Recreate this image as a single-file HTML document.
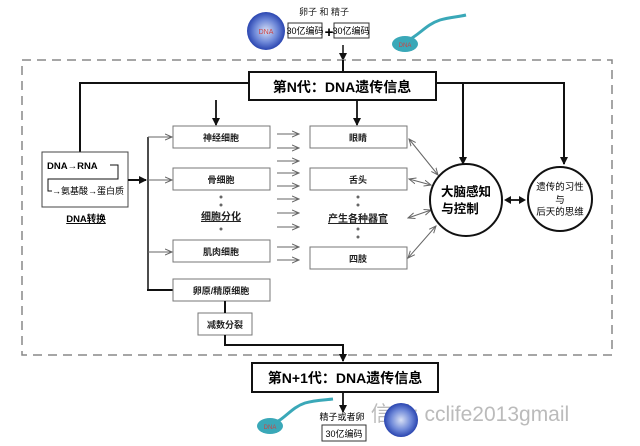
<!DOCTYPE html>
<html><head><meta charset="utf-8"><style>
html,body{margin:0;padding:0;background:#fff;}
svg{display:block;font-family:"Liberation Sans","Noto Sans CJK SC",sans-serif;}
</style></head><body>
<svg width="640" height="446" viewBox="0 0 640 446" xmlns="http://www.w3.org/2000/svg">
<defs>
<marker id="a" markerWidth="8" markerHeight="8" refX="7" refY="4" orient="auto" markerUnits="userSpaceOnUse"><path d="M0,0 L8,4 L0,8 Z" fill="#111"/></marker>
<marker id="t" markerWidth="8" markerHeight="8" refX="7" refY="4" orient="auto" markerUnits="userSpaceOnUse"><path d="M0,1 L7,4 L0,7" fill="none" stroke="#666" stroke-width="1"/></marker>
<marker id="ts" markerWidth="8" markerHeight="8" refX="1" refY="4" orient="auto" markerUnits="userSpaceOnUse"><path d="M8,1 L1,4 L8,7" fill="none" stroke="#666" stroke-width="1"/></marker>
<radialGradient id="egg"><stop offset="0" stop-color="#d8e0f5"/><stop offset="0.6" stop-color="#6e88d8"/><stop offset="1" stop-color="#2a45b0"/></radialGradient>
</defs>
<circle cx="266" cy="31" r="19" fill="url(#egg)"/>
<text x="266" y="34" font-size="7" fill="#c44" text-anchor="middle">DNA</text>
<text x="324" y="15" font-size="9" text-anchor="middle" fill="#222">卵子  和  精子</text>
<rect x="288" y="23" width="34" height="15" fill="#fff" stroke="#333"/>
<text x="305" y="34" font-size="9" text-anchor="middle">30亿编码</text>
<text x="329" y="37" font-size="15" font-weight="bold" text-anchor="middle">+</text>
<rect x="334" y="23" width="35" height="15" fill="#fff" stroke="#333"/>
<text x="351" y="34" font-size="9" text-anchor="middle">30亿编码</text>
<path d="M405,42 C420,35 425,25 440,20 C450,17 458,17 466,15" fill="none" stroke="#3aa8b8" stroke-width="3"/>
<ellipse cx="405" cy="44" rx="13" ry="8" fill="#3aa8b8"/>
<text x="405" y="47" font-size="6" fill="#c44" text-anchor="middle">DNA</text>
<line x1="343" y1="45" x2="343" y2="60" stroke="#111" stroke-width="1.5" marker-end="url(#a)"/>
<rect x="22" y="60" width="590" height="295" fill="none" stroke="#888" stroke-width="1.5" stroke-dasharray="9,6"/>
<line x1="343" y1="60" x2="343" y2="72" stroke="#111" stroke-width="2"/>
<rect x="249" y="72" width="187" height="28" fill="#fff" stroke="#111" stroke-width="2"/>
<text x="342" y="92" font-size="14" font-weight="bold" text-anchor="middle">第N代：DNA遗传信息</text>
<polyline points="249,83 80,83 80,152" fill="none" stroke="#111" stroke-width="2"/>
<line x1="216" y1="100" x2="216" y2="125" stroke="#111" stroke-width="1.8" marker-end="url(#a)"/>
<line x1="357" y1="100" x2="357" y2="125" stroke="#111" stroke-width="1.8" marker-end="url(#a)"/>
<polyline points="436,83 564,83 564,164" fill="none" stroke="#111" stroke-width="2" marker-end="url(#a)"/>
<line x1="463" y1="83" x2="463" y2="164" stroke="#111" stroke-width="2" marker-end="url(#a)"/>
<rect x="42" y="152" width="86" height="55" fill="#fff" stroke="#444"/>
<text x="47" y="169" font-size="9.5" font-weight="bold">DNA→RNA</text>
<polyline points="110,165 118,165 118,179 48,179 48,191 52,191" fill="none" stroke="#111" stroke-width="1"/>
<text x="52" y="194" font-size="9">→氨基酸→蛋白质</text>
<text x="86" y="222" font-size="9.5" font-weight="bold" text-anchor="middle" text-decoration="underline">DNA转换</text>
<line x1="128" y1="180" x2="146" y2="180" stroke="#111" stroke-width="2" marker-end="url(#a)"/>
<line x1="148" y1="137" x2="148" y2="290" stroke="#111" stroke-width="1.5"/>
<line x1="148" y1="137" x2="172" y2="137" stroke="#666" marker-end="url(#t)"/>
<line x1="148" y1="180" x2="172" y2="180" stroke="#666" marker-end="url(#t)"/>
<line x1="148" y1="252" x2="172" y2="252" stroke="#666" marker-end="url(#t)"/>
<line x1="147" y1="290" x2="173" y2="290" stroke="#111" stroke-width="2"/>
<g font-size="9" text-anchor="middle" fill="#222" font-weight="bold">
<rect x="173" y="126" width="97" height="22" fill="#fff" stroke="#777"/><text x="221" y="141">神经细胞</text>
<rect x="173" y="168" width="97" height="22" fill="#fff" stroke="#777"/><text x="221" y="183">骨细胞</text>
<text x="221" y="220" font-size="10" text-decoration="underline">细胞分化</text>
<rect x="173" y="240" width="97" height="22" fill="#fff" stroke="#777"/><text x="221" y="255">肌肉细胞</text>
<rect x="173" y="279" width="97" height="22" fill="#fff" stroke="#777"/><text x="221" y="294">卵原/精原细胞</text>
<rect x="310" y="126" width="97" height="22" fill="#fff" stroke="#777"/><text x="358" y="141">眼睛</text>
<rect x="310" y="168" width="97" height="22" fill="#fff" stroke="#777"/><text x="358" y="183">舌头</text>
<text x="358" y="222" font-size="10" text-decoration="underline">产生各种器官</text>
<rect x="310" y="247" width="97" height="22" fill="#fff" stroke="#777"/><text x="358" y="262">四肢</text>
<rect x="198" y="313" width="54" height="22" fill="#fff" stroke="#777"/><text x="225" y="328">减数分裂</text>
</g>
<g fill="#666">
<circle cx="221" cy="197" r="1.5"/><circle cx="221" cy="205" r="1.5"/><circle cx="221" cy="229" r="1.5"/>
<circle cx="358" cy="197" r="1.5"/><circle cx="358" cy="205" r="1.5"/><circle cx="358" cy="229" r="1.5"/><circle cx="358" cy="237" r="1.5"/>
</g>
<g stroke="#666" stroke-width="1">
<line x1="277" y1="134" x2="299" y2="134" marker-end="url(#t)"/>
<line x1="277" y1="148" x2="299" y2="148" marker-end="url(#t)"/>
<line x1="277" y1="161" x2="299" y2="161" marker-end="url(#t)"/>
<line x1="277" y1="173" x2="299" y2="173" marker-end="url(#t)"/>
<line x1="277" y1="186" x2="299" y2="186" marker-end="url(#t)"/>
<line x1="277" y1="199" x2="299" y2="199" marker-end="url(#t)"/>
<line x1="277" y1="213" x2="299" y2="213" marker-end="url(#t)"/>
<line x1="277" y1="227" x2="299" y2="227" marker-end="url(#t)"/>
<line x1="277" y1="247" x2="299" y2="247" marker-end="url(#t)"/>
<line x1="277" y1="260" x2="299" y2="260" marker-end="url(#t)"/>
<line x1="409" y1="139" x2="438" y2="175" marker-start="url(#ts)" marker-end="url(#t)"/>
<line x1="409" y1="179" x2="431" y2="185" marker-start="url(#ts)" marker-end="url(#t)"/>
<line x1="408" y1="218" x2="431" y2="210" marker-start="url(#ts)" marker-end="url(#t)"/>
<line x1="408" y1="258" x2="436" y2="226" marker-start="url(#ts)" marker-end="url(#t)"/>
</g>
<circle cx="466" cy="200" r="36" fill="#fff" stroke="#111" stroke-width="2"/>
<text x="466" y="196" font-size="12.5" font-weight="bold" text-anchor="middle">大脑感知</text>
<text x="460" y="213" font-size="12.5" font-weight="bold" text-anchor="middle">与控制</text>
<circle cx="560" cy="199" r="32" fill="#fff" stroke="#111" stroke-width="2"/>
<text x="560" y="190" font-size="9.5" text-anchor="middle">遗传的习性</text>
<text x="560" y="203" font-size="9.5" text-anchor="middle">与</text>
<text x="560" y="215" font-size="9.5" text-anchor="middle">后天的思维</text>
<line x1="510" y1="200" x2="520" y2="200" stroke="#111" stroke-width="1.8"/>
<path d="M504,200 L511,196 L511,204Z" fill="#111"/>
<path d="M526,200 L519,196 L519,204Z" fill="#111"/>
<line x1="225" y1="301" x2="225" y2="313" stroke="#111" stroke-width="2"/>
<polyline points="225,335 225,345 343,345 343,361" fill="none" stroke="#111" stroke-width="2" marker-end="url(#a)"/>
<rect x="252" y="363" width="186" height="29" fill="#fff" stroke="#111" stroke-width="2"/>
<text x="345" y="383" font-size="14" font-weight="bold" text-anchor="middle">第N+1代：DNA遗传信息</text>
<line x1="343" y1="392" x2="343" y2="412" stroke="#111" stroke-width="1.8" marker-end="url(#a)"/>
<path d="M270,425 C285,420 290,408 305,403 C315,400 325,400 333,399" fill="none" stroke="#3aa8b8" stroke-width="3"/>
<ellipse cx="270" cy="426" rx="13" ry="8" fill="#3aa8b8"/>
<text x="270" y="429" font-size="6" fill="#c44" text-anchor="middle">DNA</text>
<text x="342" y="420" font-size="9" text-anchor="middle">精子或者卵</text>
<rect x="322" y="425" width="44" height="16" fill="#fff" stroke="#333"/>
<text x="344" y="437" font-size="9" text-anchor="middle">30亿编码</text>
<text x="470" y="421" font-size="21" fill="#bbb" text-anchor="middle">信号: cclife2013gmail</text>
<circle cx="401" cy="420" r="17" fill="url(#egg)"/>
</svg>
</body></html>
